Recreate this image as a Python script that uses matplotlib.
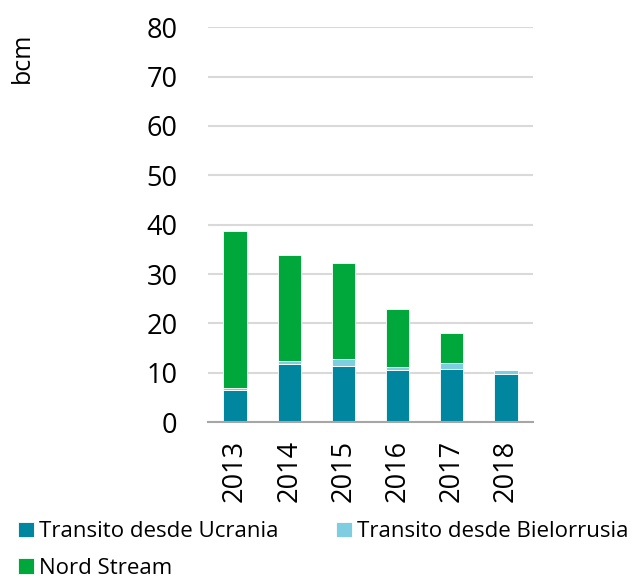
import matplotlib
matplotlib.use("Agg")
import matplotlib.pyplot as plt
import numpy as np

plt.rcParams['font.family'] = ['Open Sans', 'DejaVu Sans']

# Data (bcm)
years = ["2013", "2014", "2015", "2016", "2017", "2018"]
ucrania = [6.5, 11.7, 11.4, 10.6, 10.8, 9.7]
bielorrusia = [0.5, 0.7, 1.4, 0.6, 1.2, 0.8]
nord_stream = [31.8, 21.4, 19.4, 11.7, 6.0, 0.0]

c_ucr = "#00869F"
c_bie = "#7FCDE0"
c_ns = "#00A83C"

fig = plt.figure(figsize=(6.36, 5.79), dpi=100)
ax = fig.add_axes([0.327, 0.271, 0.511, 0.682])

x = np.arange(len(years))
w = 0.43
ucr = np.array(ucrania)
bie = np.array(bielorrusia)
ns = np.array(nord_stream)

b1 = ax.bar(x, ucr, w, color=c_ucr, edgecolor="white", linewidth=0.6, label="Transito desde Ucrania", zorder=3)
b2 = ax.bar(x, bie, w, bottom=ucr, color=c_bie, edgecolor="white", linewidth=0.6, label="Transito desde Bielorrusia", zorder=3)
b3 = ax.bar(x, ns, w, bottom=ucr + bie, color=c_ns, edgecolor="white", linewidth=0.6, label="Nord Stream", zorder=3)

ax.set_xlim(-0.5, len(years) - 0.5)
ax.set_ylim(0, 80)
ax.set_yticks(range(0, 81, 10))
ax.set_xticks(x)
ax.set_xticklabels(years, rotation=90)
ax.tick_params(axis="y", length=0, pad=22, labelsize=19.5)
ax.tick_params(axis="x", length=0, pad=13, labelsize=19.5)

ax.grid(axis="y", color="#D9D9D9", linewidth=1.5, zorder=0)
for s in ["top", "right", "left"]:
    ax.spines[s].set_visible(False)
ax.spines["bottom"].set_color("#A6A6A6")
ax.spines["bottom"].set_linewidth(1.5)
ax.spines["bottom"].set_zorder(4)

fig.text(22 / 636, 1 - 58 / 579, "bcm", rotation=90, fontsize=18, ha="center", va="center")

# row-major order: Ucrania, Bielorrusia / Nord Stream
handles = [b1, b3, b2]
labels = [h.get_label() for h in handles]
fig.legend(handles, labels, loc="upper left", bbox_to_anchor=(0.014, 0.115), ncol=2, frameon=False,
           fontsize=16, handlelength=0.72, handleheight=0.72, handletextpad=0.23,
           columnspacing=2.6, labelspacing=0.7, borderaxespad=0)

fig.savefig("out.png", dpi=100)
